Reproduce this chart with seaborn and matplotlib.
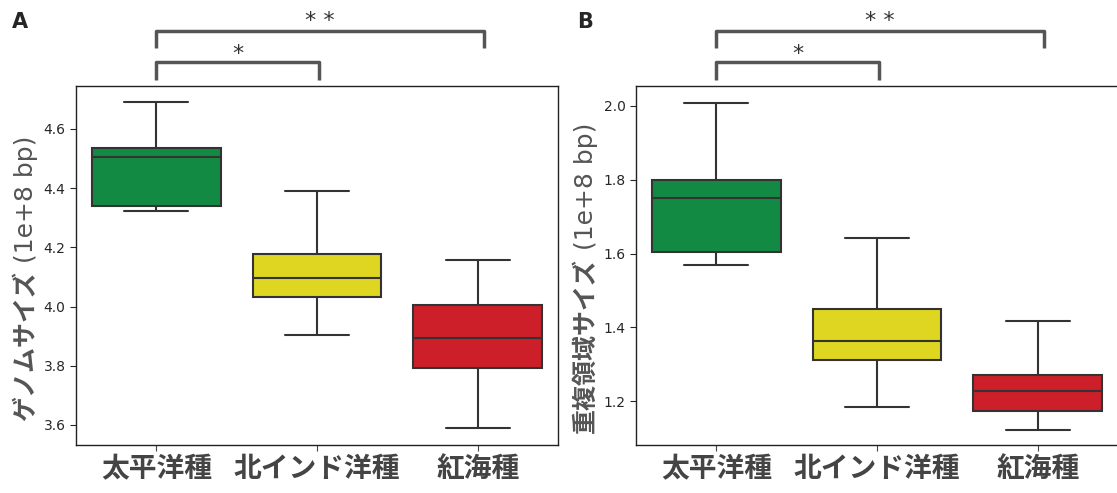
import matplotlib
matplotlib.use("Agg")
import matplotlib.pyplot as plt
import matplotlib.transforms as mtransforms
import seaborn as sns
import pandas as pd

sns.set_style("white")
plt.rcParams['font.family'] = ['DejaVu Sans', 'Noto Sans CJK JP']

categories = ["太平洋種", "北インド洋種", "紅海種"]
palette = ["#138a43", "#ded620", "#cc1f2a"]

# five-number summaries (whisker low, Q1, median, Q3, whisker high)
genome_pacific = [4.323, 4.340, 4.505, 4.536, 4.691]
genome_nindian = [3.905, 4.032, 4.098, 4.178, 4.390]
genome_redsea = [3.590, 3.791, 3.892, 4.005, 4.157]

repeat_pacific = [1.569, 1.604, 1.751, 1.800, 2.008]
repeat_nindian = [1.184, 1.311, 1.363, 1.449, 1.642]
repeat_redsea = [1.121, 1.173, 1.227, 1.271, 1.417]

ylabel_names = ["ゲノムサイズ", "重複領域サイズ"]
ylabel_unit = " (1e+8 bp)"
panel_labels = ["A", "B"]
ylims = [(3.532, 4.745), (1.081, 2.054)]
yticks = [[3.6, 3.8, 4.0, 4.2, 4.4, 4.6], [1.2, 1.4, 1.6, 1.8, 2.0]]
# significance brackets: (start, end, label)
brackets = [(0, 1.01, "*"), (0, 2.04, "* *")]

def make_df(a, b, c):
    rows = []
    for cat, vals in zip(categories, [a, b, c]):
        for v in vals:
            rows.append({"group": cat, "value": v})
    return pd.DataFrame(rows)

dfs = [make_df(genome_pacific, genome_nindian, genome_redsea),
       make_df(repeat_pacific, repeat_nindian, repeat_redsea)]

fig = plt.figure(figsize=(11.17, 4.93), dpi=100)
renderer = fig.canvas.get_renderer()
positions = [[76 / 1117, 0.0974, 482 / 1117, 0.728], [636 / 1117, 0.0974, 482 / 1117, 0.728]]
label_x = [20 / 1117, 585 / 1117]
bracket_y = [(1.017, 1.067, 1.090), (1.106, 1.153, 1.182)]

for i in range(2):
    ax = fig.add_axes(positions[i])
    sns.boxplot(data=dfs[i], x="group", y="value", hue="group", palette=palette,
                order=categories, hue_order=categories, legend=False,
                width=0.8, linewidth=1.5, linecolor="#333333", whis=10, ax=ax,
                saturation=1)
    ax.set_xlim(-0.5, 2.5)
    ax.set_ylim(*ylims[i])
    ax.set_yticks(yticks[i])
    ax.set_yticklabels([f"{t:.1f}" for t in yticks[i]], fontsize=10)
    ax.set_xlabel("")
    ax.set_ylabel("")
    ax.tick_params(axis="x", labelsize=20, colors="#444444", length=4, bottom=True)
    ax.tick_params(axis="y", length=4, left=True)
    for lab in ax.get_xticklabels():
        lab.set_fontweight("bold")
        lab.set_color("#444444")
    for s in ax.spines.values():
        s.set_color("#222222")
        s.set_linewidth(1.0)

    # y-axis label: bold Japanese part followed by regular unit part
    bx = -0.0892
    t1 = ax.text(bx, 0.5, ylabel_names[i], transform=ax.transAxes, rotation=90,
                 rotation_mode="anchor", ha="left", va="baseline", fontsize=18,
                 fontweight="bold", color="#555555", family=["Noto Sans CJK JP"])
    t2 = ax.text(bx, 0.5, ylabel_unit, transform=ax.transAxes, rotation=90,
                 rotation_mode="anchor", ha="left", va="baseline", fontsize=18,
                 fontweight="normal", color="#555555", family=["DejaVu Sans"])
    axh = ax.get_window_extent(renderer).height
    h1 = t1.get_window_extent(renderer).height / axh
    h2 = t2.get_window_extent(renderer).height / axh
    y0 = 0.465 - (h1 + h2) / 2
    t1.set_y(y0)
    t2.set_y(y0 + h1)

    trans = mtransforms.blended_transform_factory(ax.transData, ax.transAxes)
    for (x0, x1, txt), (yb, yt, ys) in zip(brackets, bracket_y):
        ax.plot([x0, x0, x1, x1], [yb, yt, yt, yb], transform=trans,
                color="#555555", lw=2.5, clip_on=False, solid_joinstyle="round",
                solid_capstyle="butt")
        ax.text((x0 + x1) / 2, ys, txt, transform=trans, ha="center", va="center",
                fontsize=16, color="#333333")

    fig.text(label_x[i], 0.955, panel_labels[i], fontsize=15, fontweight="bold",
             ha="center", va="center")

fig.savefig("out.png", dpi=100)
